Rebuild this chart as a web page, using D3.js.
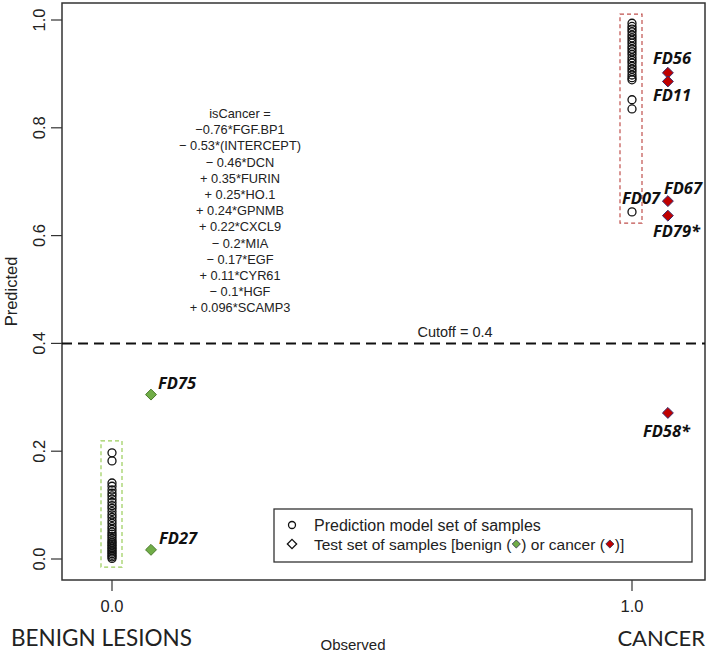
<!DOCTYPE html>
<html><head><meta charset="utf-8">
<script src="https://cdn.jsdelivr.net/npm/d3@7"></script>
<style>body{margin:0;background:#fff}svg{display:block}</style>
</head><body><svg id="c" width="709" height="656"></svg>
<script>
// ---- data ----
const benignTrain = [0.197,0.182,0.141,0.135,0.128,0.122,0.117,0.111,0.105,0.099,0.094,0.088,0.082,0.077,0.071,0.066,0.060,0.055,0.050,0.046,0.042,0.038,0.034,0.031,0.028,0.025,0.022,0.019,0.016,0.013,0.010,0.007,0.004,0.001];
const cancerTrain = [0.994,0.988,0.983,0.978,0.972,0.967,0.962,0.957,0.951,0.946,0.941,0.936,0.930,0.925,0.920,0.914,0.909,0.904,0.898,0.893,0.889,0.852,0.835,0.644];
const testNames = ["FD75","FD27","FD56","FD11","FD67","FD79*","FD58*"];
const testObs   = [0.075,0.075,1.069,1.069,1.069,1.069,1.069];
const testPred  = [0.305,0.017,0.902,0.886,0.664,0.637,0.271];
const testType  = ["benign","benign","cancer","cancer","cancer","cancer","cancer"];
const yTicks = [0,0.2,0.4,0.6,0.8,1.0];
const xTicks = [0,1];
const cutoff = 0.4;
const equation = ["isCancer =","\u22120.76*FGF.BP1","\u2212 0.53*(INTERCEPT)","\u2212 0.46*DCN","+ 0.35*FURIN","+ 0.25*HO.1","+ 0.24*GPNMB","+ 0.22*CXCL9","\u2212 0.2*MIA","\u2212 0.17*EGF","+ 0.11*CYR61","\u2212 0.1*HGF","+ 0.096*SCAMP3"];
const legendItems = ["Prediction model set of samples","Test set of samples [benign (",") or cancer (",")]"];

// ---- layout (styles/positions) ----
const svg = d3.select("#c");
const L=62, R=705, T=3, B=580;
const x = d3.scaleLinear().domain([0,1]).range([112,632]);
const y = d3.scaleLinear().domain([0,1]).range([559,20]);
const font = "Liberation Sans, Arial, sans-serif";
const lblFont = "Open Sans, Noto Sans, sans-serif";
const capFont = "Lato, Open Sans, sans-serif";
const cGreen = "#70ad47", cRed = "#c00000";

svg.append("rect").attr("x",L).attr("y",T).attr("width",R-L).attr("height",B-T)
  .attr("fill","none").attr("stroke","#333").attr("stroke-width",1.5);

// y axis (R-style, labels parallel to axis)
yTicks.forEach(v=>{
  svg.append("line").attr("x1",L-11).attr("x2",L).attr("y1",y(v)).attr("y2",y(v)).attr("stroke","#333").attr("stroke-width",1.2);
  svg.append("text").attr("transform",`translate(${L-17},${y(v)}) rotate(-90)`)
    .attr("text-anchor","middle").attr("font-family",font).attr("font-size",16.5).attr("fill","#222")
    .text(d3.format(".1f")(v));
});
svg.append("text").attr("transform",`translate(17,${(T+B)/2}) rotate(-90)`)
  .attr("text-anchor","middle").attr("font-family",font).attr("font-size",16.5).attr("fill","#222").text("Predicted");

// x axis
xTicks.forEach(v=>{
  svg.append("line").attr("x1",x(v)).attr("x2",x(v)).attr("y1",B).attr("y2",B+11).attr("stroke","#333").attr("stroke-width",1.2);
  svg.append("text").attr("x",x(v)).attr("y",B+32).attr("text-anchor","middle")
    .attr("font-family",font).attr("font-size",16.5).attr("fill","#222").text(d3.format(".1f")(v));
});
svg.append("text").attr("x",353).attr("y",650).attr("text-anchor","middle")
  .attr("font-family",font).attr("font-size",15).attr("fill","#222").text("Observed");
svg.append("text").attr("x",11).attr("y",646).attr("font-family",capFont).attr("font-size",22.5).attr("fill","#222").text("BENIGN LESIONS");
svg.append("text").attr("x",705).attr("y",646).attr("text-anchor","end").attr("font-family",capFont).attr("font-size",22).attr("fill","#222").text("CANCER");

// cutoff
svg.append("line").attr("x1",L).attr("x2",R).attr("y1",y(cutoff)).attr("y2",y(cutoff))
  .attr("stroke","#111").attr("stroke-width",2).attr("stroke-dasharray","10,6");
svg.append("text").attr("x",455).attr("y",y(cutoff)-6).attr("text-anchor","middle")
  .attr("font-family",font).attr("font-size",14.5).attr("fill","#222").text("Cutoff = "+cutoff);

// equation
equation.forEach((s,i)=>{
  svg.append("text").attr("x",240).attr("y",118+i*16.2).attr("text-anchor","middle")
    .attr("font-family",font).attr("font-size",12.8).attr("fill","#222").text(s);
});

// dashed boxes
svg.append("rect").attr("x",101).attr("y",y(0.219)).attr("width",21).attr("height",y(-0.015)-y(0.219))
  .attr("fill","none").attr("stroke","#9acd5a").attr("stroke-width",1.2).attr("stroke-dasharray","4,3");
svg.append("rect").attr("x",620).attr("y",y(1.011)).attr("width",22).attr("height",y(0.623)-y(1.011))
  .attr("fill","none").attr("stroke","#c0504d").attr("stroke-width",1.2).attr("stroke-dasharray","4,3");

// training circles
svg.append("g").selectAll("circle").data(benignTrain).join("circle")
  .attr("cx",x(0)).attr("cy",d=>y(d)).attr("r",4).attr("fill","none").attr("stroke","#111").attr("stroke-width",1.3);
svg.append("g").selectAll("circle").data(cancerTrain).join("circle")
  .attr("cx",x(1)).attr("cy",d=>y(d)).attr("r",4).attr("fill","none").attr("stroke","#111").attr("stroke-width",1.3);

// test diamonds
const dsym = d3.symbol().type(d3.symbolDiamond2).size(76);
const test = testNames.map((n,i)=>({n,o:testObs[i],p:testPred[i],t:testType[i]}));
svg.append("g").selectAll("path").data(test).join("path")
  .attr("d",dsym).attr("transform",d=>`translate(${x(d.o)},${y(d.p)})`)
  .attr("fill",d=>d.t==="benign"?cGreen:cRed)
  .attr("stroke",d=>d.t==="benign"?"#4a7a2a":"#3b2a6b").attr("stroke-width",1);

// test labels (offsets from marker)
const lblOff = {"FD75":[7,-6],"FD27":[8,-6],"FD56":[-15,-9],"FD11":[-15,20],
  "FD67":[-4,-7],"FD79*":[-15,21],"FD58*":[-25,24]};
svg.append("g").selectAll("text").data(test).join("text")
  .attr("x",d=>x(d.o)+lblOff[d.n][0]).attr("y",d=>y(d.p)+lblOff[d.n][1])
  .attr("font-family",lblFont).attr("font-weight","bold").attr("font-style","italic").attr("font-size",16.5).attr("fill","#111")
  .text(d=>d.n);
svg.append("text").attr("x",x(1)-10).attr("y",y(0.644)-8).attr("font-family",lblFont).attr("font-weight","bold")
  .attr("font-style","italic").attr("font-size",16.5).attr("fill","#111").text("FD07");

// legend
const lg = svg.append("g");
lg.append("rect").attr("x",274).attr("y",509).attr("width",418).attr("height",53).attr("fill","#fff").attr("stroke","#333").attr("stroke-width",1.3);
lg.append("circle").attr("cx",292).attr("cy",525).attr("r",3.5).attr("fill","none").attr("stroke","#111").attr("stroke-width",1.3);
lg.append("path").attr("d",d3.symbol().type(d3.symbolDiamond2).size(55)).attr("transform","translate(292,544)")
  .attr("fill","none").attr("stroke","#111").attr("stroke-width",1.3);
lg.append("text").attr("x",314).attr("y",530.5).attr("font-family",font).attr("font-size",16).attr("fill","#222").text(legendItems[0]);
// second line with inline diamonds
let cx0 = 314;
const parts = [legendItems[1], null, legendItems[2], null, legendItems[3]];
const icol = [cGreen, cRed]; let k=0;
parts.forEach(p=>{
  if(p===null){
    lg.append("path").attr("d",d3.symbol().type(d3.symbolDiamond2).size(42)).attr("transform",`translate(${cx0+5},544)`)
      .attr("fill",icol[k]).attr("stroke","#2b2b4b").attr("stroke-width",0.8);
    k++; cx0 += 10;
  } else {
    const t = lg.append("text").attr("x",cx0).attr("y",549.5).attr("font-family",font).attr("font-size",15.5).attr("fill","#222")
      .attr("xml:space","preserve").style("white-space","pre").text(p);
    cx0 += t.node().getComputedTextLength();
  }
});
</script></body></html>
